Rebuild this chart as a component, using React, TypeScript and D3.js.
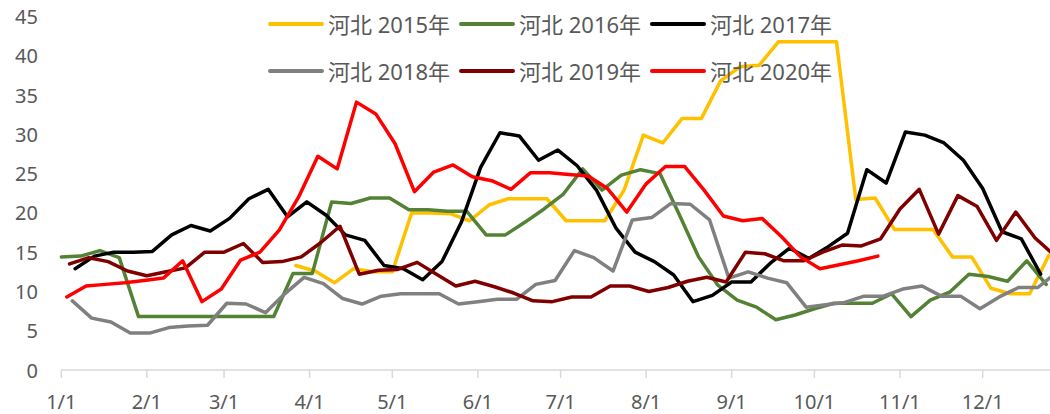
import React from "react";
import * as d3 from "d3";

const WIDTH = 1050;
const HEIGHT = 414;

// x axis: day-of-year (common year), month starts
const monthStartDays = [0, 31, 59, 90, 120, 151, 181, 212, 243, 273, 304, 334];
const monthLabels = ["1/1", "2/1", "3/1", "4/1", "5/1", "6/1", "7/1", "8/1", "9/1", "10/1", "11/1", "12/1"];
const yTicks = [0, 5, 10, 15, 20, 25, 30, 35, 40, 45];

const seriesNames = ["河北 2015年", "河北 2016年", "河北 2017年", "河北 2018年", "河北 2019年", "河北 2020年"];
const seriesColors = ["#FFC000", "#548235", "#000000", "#808080", "#800000", "#FF0000"];
// first weekly observation (day of year) for each year
const startDays = [85, 0, 5, 4, 3, 2];

const v2015 = [13.3, 12.6, 11.1, 12.9, 12.5, 12.5, 20.0, 20.0, 19.9, 19.0, 21.0, 21.8, 21.8, 21.8, 19.0, 19.0, 19.0, 22.9, 29.9, 28.9,
  32.0, 32.0, 36.8, 38.6, 38.8, 41.8, 41.8, 41.8, 41.8, 21.7, 21.9, 17.9, 17.9, 17.9, 14.4, 14.4, 10.4, 9.7, 9.7, 14.6];
const v2016 = [14.4, 14.5, 15.2, 14.3, 6.8, 6.8, 6.8, 6.8, 6.8, 6.8, 6.8, 6.8, 12.3, 12.3, 21.4, 21.2, 21.9, 21.9, 20.4, 20.4,
  20.2, 20.2, 17.2, 17.2, 18.8, 20.5, 22.4, 25.6, 22.9, 24.8, 25.5, 25.0, 19.8, 14.4, 10.8, 8.9, 8.0, 6.4, 7.0, 7.8,
  8.5, 8.5, 8.5, 9.7, 6.8, 8.9, 9.9, 12.2, 11.9, 11.3, 13.9, 10.9];
const v2017 = [12.9, 14.5, 15.0, 15.0, 15.1, 17.2, 18.4, 17.7, 19.3, 21.8, 23.0, 19.5, 21.4, 19.7, 17.2, 16.5, 13.3, 12.9, 11.5, 13.8,
  18.8, 25.8, 30.2, 29.8, 26.7, 28.0, 26.0, 22.9, 18.1, 15.0, 13.8, 12.1, 8.7, 9.5, 11.2, 11.2, 13.6, 15.5, 14.2, 15.7,
  17.4, 25.5, 23.8, 30.3, 29.9, 28.9, 26.7, 23.1, 17.6, 16.7, 12.2];
const v2018 = [8.8, 6.6, 6.1, 4.7, 4.7, 5.4, 5.6, 5.7, 8.5, 8.4, 7.3, 9.7, 11.8, 11.0, 9.1, 8.4, 9.4, 9.7, 9.7, 9.7,
  8.4, 8.7, 9.0, 9.0, 10.9, 11.4, 15.2, 14.3, 12.6, 19.1, 19.4, 21.2, 21.1, 19.1, 11.7, 12.5, 11.7, 11.1, 8.0, 8.3,
  8.6, 9.4, 9.4, 10.3, 10.7, 9.4, 9.4, 7.8, 9.3, 10.5, 10.5, 12.5];
const v2019 = [13.5, 14.3, 13.8, 12.6, 12.0, 12.5, 13.0, 15.0, 15.0, 16.1, 13.7, 13.8, 14.4, 16.2, 18.3, 12.2, 12.7, 12.8, 13.7, 12.2,
  10.7, 11.3, 10.6, 9.8, 8.8, 8.7, 9.3, 9.3, 10.7, 10.7, 10.0, 10.5, 11.3, 11.8, 11.2, 15.0, 14.8, 13.9, 13.9, 15.0,
  15.9, 15.8, 16.7, 20.5, 23.0, 17.3, 22.2, 20.8, 16.5, 20.1, 16.8, 14.6];
const v2020 = [9.3, 10.7, 10.9, 11.1, 11.4, 11.7, 13.9, 8.7, 10.3, 14.0, 15.0, 17.8, 22.0, 27.2, 25.6, 34.1, 32.6, 28.8, 22.7, 25.2,
  26.1, 24.6, 24.1, 23.0, 25.1, 25.1, 24.9, 24.7, 23.1, 20.1, 23.7, 25.9, 25.9, 22.9, 19.6, 19.0, 19.3, 17.0, 14.4, 12.9,
  13.4, 13.9, 14.5];

const seriesValues = [v2015, v2016, v2017, v2018, v2019, v2020];

export default function App() {
  const plotLeft = 61.3;
  const plotRight = 1050;
  const plotTop = 16.5;
  const plotBottom = 370;
  const pxPerDay = (982.7 - plotLeft) / 334;
  const lastDay = (plotRight - plotLeft) / pxPerDay;

  const x = d3.scaleLinear().domain([0, lastDay]).range([plotLeft, plotRight]);
  const y = d3.scaleLinear().domain([0, 45]).range([plotBottom, plotTop]);

  const line = d3
    .line<{ d: number; v: number }>()
    .x((p) => x(p.d))
    .y((p) => y(p.v));

  const series = seriesNames.map((name, i) => ({
    name,
    color: seriesColors[i],
    points: seriesValues[i].map((v, k) => ({ d: startDays[i] + 7 * k, v })),
  }));

  const legendCols = [270, 461, 652];
  const legendRows = [24, 71];
  const legendLineLen = 52;

  const axisFont = "'Noto Sans', 'DejaVu Sans', sans-serif";
  const legendFont = "'Noto Sans', 'Noto Sans CJK SC', sans-serif";
  const textColor = "#595959";

  return (
    <svg
      width={WIDTH}
      height={HEIGHT}
      viewBox={`0 0 ${WIDTH} ${HEIGHT}`}
      style={{ position: "absolute", left: 0, top: 0, background: "#fff" }}
    >
      <defs>
        <clipPath id="plotClip">
          <rect x={plotLeft - 2} y={0} width={plotRight - plotLeft + 2} height={plotBottom + 2} />
        </clipPath>
      </defs>
      <rect x={0} y={0} width={WIDTH} height={HEIGHT} fill="#fff" />

      {/* y axis labels */}
      {yTicks.map((t) => (
        <text
          key={"y" + t}
          x={38}
          y={y(t)}
          textAnchor="end"
          dominantBaseline="central"
          fontFamily={axisFont}
          fontSize={20}
          fill={textColor}
        >
          {t}
        </text>
      ))}

      {/* x axis line and ticks */}
      <line x1={plotLeft} x2={plotRight} y1={plotBottom} y2={plotBottom} stroke="#D9D9D9" strokeWidth={1.5} />
      {monthStartDays.map((d, i) => (
        <g key={"m" + i}>
          <line x1={x(d)} x2={x(d)} y1={plotBottom} y2={plotBottom + 8} stroke="#D9D9D9" strokeWidth={1.5} />
          <text
            x={x(d)}
            y={401}
            textAnchor="middle"
            dominantBaseline="central"
            fontFamily={axisFont}
            fontSize={20}
            fill={textColor}
          >
            {monthLabels[i]}
          </text>
        </g>
      ))}

      {/* series lines */}
      <g clipPath="url(#plotClip)">
        {series.map((s) => (
          <path
            key={s.name}
            d={line(s.points) || ""}
            fill="none"
            stroke={s.color}
            strokeWidth={3.5}
            strokeLinejoin="round"
            strokeLinecap="round"
          />
        ))}
      </g>

      {/* legend */}
      {series.map((s, i) => {
        const lx = legendCols[i % 3];
        const ly = legendRows[Math.floor(i / 3)];
        return (
          <g key={"lg" + i}>
            <line
              x1={lx}
              x2={lx + legendLineLen}
              y1={ly}
              y2={ly}
              stroke={s.color}
              strokeWidth={4}
              strokeLinecap="round"
            />
            <text
              x={lx + legendLineLen + 6}
              y={ly}
              dominantBaseline="central"
              fontFamily={legendFont}
              fontSize={22}
              fill={textColor}
            >
              {s.name}
            </text>
          </g>
        );
      })}
    </svg>
  );
}
